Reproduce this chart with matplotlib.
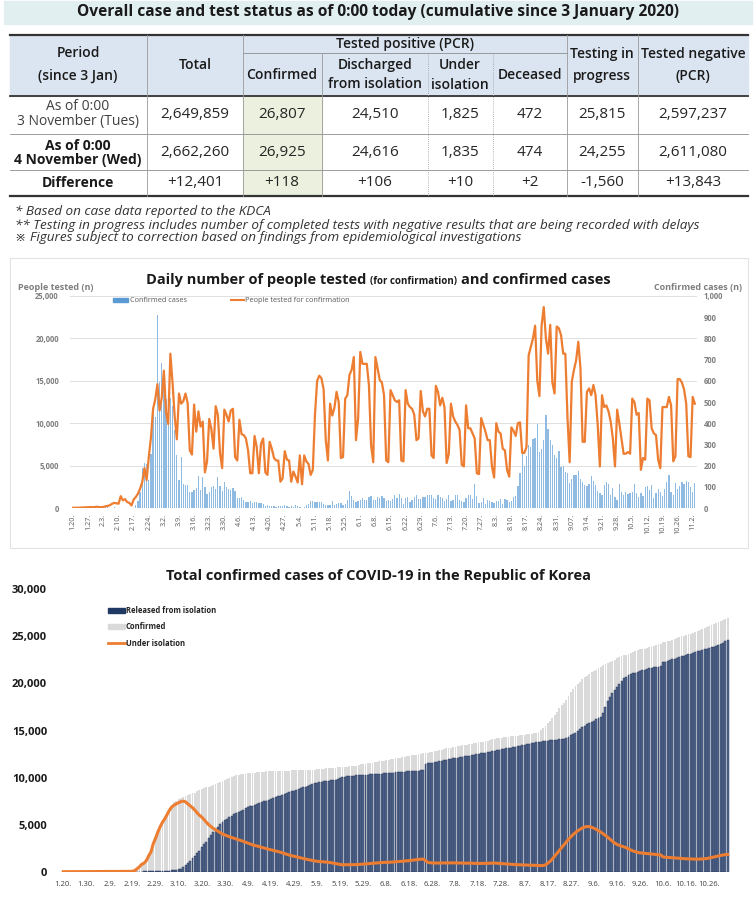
import numpy as np
import pandas as pd
import matplotlib
matplotlib.use('Agg')
import matplotlib.pyplot as plt
from matplotlib.patches import Rectangle

plt.rcParams['font.family'] = ['Open Sans', 'DejaVu Sans']

W, H = 756, 906

# ---------------- table data ----------------
table_title = 'Overall case and test status as of 0:00 today (cumulative since 3 January 2020)'
row_labels = [('As of 0:00', '3 November (Tues)'), ('As of 0:00', '4 November (Wed)'), ('Difference',)]
col_total = ['2,649,859', '2,662,260', '+12,401']
col_confirmed = ['26,807', '26,925', '+118']
col_discharged = ['24,510', '24,616', '+106']
col_isolation = ['1,825', '1,835', '+10']
col_deceased = ['472', '474', '+2']
col_testing = ['25,815', '24,255', '-1,560']
col_negative = ['2,597,237', '2,611,080', '+13,843']
footnotes = ['* Based on case data reported to the KDCA',
             '** Testing in progress includes number of completed tests with negative results that are being recorded with delays',
             '\u203b Figures subject to correction based on findings from epidemiological investigations']

# ---------------- daily data from 2020-01-20 ----------------
tested = [
    30, 20, 30, 40, 60, 70, 80,
    100, 110, 90, 120, 150, 110, 100,
    130, 200, 250, 330, 500, 600, 560,
    500, 1400, 900, 1050, 700, 600, 300,
    1000, 1300, 1700, 2300, 3100, 4700, 3300,
    6000, 8300, 11700, 12800, 14600, 11500, 13000,
    16200, 11300, 9900, 18200, 14800, 10800, 8100,
    13500, 12300, 12600, 13500, 12400, 6800, 6300,
    12200, 9000, 11400, 9600, 10200, 4200, 5500,
    10500, 9300, 7000, 12000, 11000, 6500, 4700,
    11600, 11000, 10200, 11500, 11700, 6000, 5600,
    10400, 8700, 8600, 8200, 6800, 4100, 4100,
    8500, 7200, 4100, 7600, 8200, 4200, 3900,
    7800, 7000, 5900, 5600, 5600, 3100, 3500,
    6700, 5700, 5600, 3100, 4300, 3700, 3000,
    6200, 2800, 6200, 5500, 5200, 3900, 4500,
    11000, 15000, 15600, 15300, 14000, 8000, 5600,
    12300, 10900, 11800, 13700, 12500, 5900, 6000,
    12900, 13300, 15700, 16300, 17800, 8000, 10600,
    18400, 17000, 17000, 17000, 14500, 7400, 5400,
    17800, 16500, 15100, 14800, 13300, 5600, 5400,
    13900, 13300, 12700, 12500, 12700, 5600, 5500,
    13900, 12300, 11900, 11700, 11000, 8000, 8200,
    13800, 11400, 10800, 11700, 11700, 6200, 5900,
    14400, 13700, 12100, 13000, 11900, 5300, 6400,
    12300, 10800, 10200, 9800, 9200, 5100, 4900,
    12100, 9400, 9400, 8800, 8200, 4100, 4000,
    10600, 9800, 9000, 8000, 8000, 4900, 3600,
    10000, 9000, 8800, 7000, 6800, 4500, 3700,
    9500, 9100, 8500, 10000, 10100, 6500, 6500,
    7200, 18000, 19000, 20000, 21500, 15000, 13200,
    21500, 23700, 20000, 18200, 21600, 14800, 13500,
    21400, 21200, 20400, 18200, 18200, 10600, 5400,
    14900, 16300, 17400, 19600, 16500, 7800, 7800,
    13700, 14100, 13300, 14500, 13300, 9800, 4900,
    13300, 11900, 12100, 11400, 10200, 8200, 4900,
    11600, 10000, 8200, 6400, 6400, 6600, 6400,
    12900, 12500, 11000, 11200, 4500, 5900, 5700,
    12900, 12700, 9400, 8800, 8600, 5700, 4700,
    11900, 11900, 11900, 13100, 12100, 5500, 6100,
    15200, 15200, 14800, 14000, 12300, 6100, 6000,
    13100, 12300,
]

confirmed_daily = [
    1, 0, 0, 1, 0, 1, 1, 0, 0, 2,
    4, 1, 3, 0, 1, 3, 5, 1, 0, 3,
    0, 0, 0, 0, 0, 0, 1, 1, 1, 15,
    34, 74, 190, 210, 207, 130, 253, 449, 427, 909,
    595, 686, 600, 516, 438, 518, 483, 367, 248, 131,
    242, 114, 110, 107, 76, 74, 84, 93, 152, 87,
    147, 98, 64, 76, 100, 104, 91, 146, 105, 78,
    125, 101, 89, 86, 94, 81, 47, 47, 53, 39,
    27, 30, 32, 25, 27, 27, 22, 22, 18, 8,
    13, 9, 11, 8, 6, 10, 10, 10, 14, 9,
    4, 9, 6, 13, 8, 3, 2, 4, 12, 18,
    34, 35, 27, 26, 29, 27, 19, 13, 15, 13,
    32, 12, 20, 23, 25, 16, 19, 40, 79, 58,
    39, 27, 35, 38, 49, 39, 39, 51, 57, 38,
    38, 50, 45, 56, 48, 34, 37, 34, 43, 59,
    49, 67, 48, 17, 46, 51, 28, 39, 51, 62,
    42, 43, 50, 54, 63, 63, 61, 46, 44, 63,
    50, 45, 35, 44, 62, 33, 39, 61, 60, 39,
    34, 26, 45, 63, 59, 41, 113, 58, 25, 28,
    48, 18, 36, 31, 30, 23, 34, 33, 43, 20,
    43, 36, 28, 34, 54, 56, 103, 166, 279, 197,
    246, 297, 288, 324, 332, 397, 266, 280, 320, 441,
    371, 323, 299, 248, 235, 267, 195, 198, 168, 167,
    119, 136, 156, 155, 176, 136, 121, 109, 106, 113,
    153, 126, 110, 82, 70, 61, 110, 125, 114, 61,
    95, 50, 38, 113, 77, 63, 75, 64, 73, 75,
    114, 69, 54, 72, 58, 97, 102, 84, 110, 47,
    73, 91, 76, 58, 89, 121, 155, 77, 61, 119,
    88, 103, 125, 114, 127, 124, 97, 75, 118,
]

released = [
    0, 0, 0, 0, 0, 0, 0, 0, 0, 0,
    0, 0, 0, 0, 0, 0, 1, 1, 2, 3,
    3, 4, 4, 7, 7, 9, 9, 10, 10, 12,
    12, 16, 16, 17, 18, 22, 22, 22, 24, 26,
    27, 30, 31, 41, 88, 108, 118, 130, 166, 200,
    288, 333, 500, 714, 900, 1137, 1407, 1650, 1950, 2233,
    2612, 2909, 3200, 3550, 3850, 4170, 4500, 4800, 5050, 5250,
    5450, 5620, 5780, 5930, 6080, 6200, 6330, 6460, 6590, 6720,
    6850, 6940, 7020, 7100, 7190, 7280, 7370, 7460, 7550, 7640,
    7730, 7820, 7910, 8000, 8080, 8160, 8250, 8340, 8430, 8520,
    8610, 8700, 8790, 8880, 8970, 9050, 9130, 9220, 9300, 9370,
    9440, 9500, 9560, 9600, 9640, 9680, 9710, 9740, 9760, 9850,
    9950, 10030, 10100, 10130, 10160, 10180, 10200, 10220, 10240, 10250,
    10270, 10290, 10310, 10330, 10350, 10370, 10390, 10410, 10430, 10450,
    10470, 10490, 10510, 10530, 10550, 10570, 10590, 10610, 10630, 10650,
    10670, 10690, 10710, 10730, 10750, 10770, 10800, 11450, 11500, 11550,
    11600, 11650, 11700, 11750, 11800, 11850, 11900, 11950, 12000, 12050,
    12080, 12120, 12160, 12200, 12250, 12300, 12340, 12380, 12420, 12460,
    12510, 12560, 12610, 12660, 12710, 12760, 12810, 12860, 12900, 12940,
    12990, 13040, 13090, 13140, 13190, 13240, 13290, 13340, 13390, 13440,
    13490, 13540, 13590, 13640, 13690, 13740, 13780, 13820, 13850, 13880,
    13910, 13940, 13970, 14000, 14030, 14060, 14090, 14120, 14200, 14300,
    14500, 14620, 14750, 14950, 15200, 15350, 15500, 15650, 15780, 15900,
    16030, 16170, 16300, 16470, 16900, 17500, 18100, 18600, 18950, 19300,
    19650, 19950, 20250, 20530, 20700, 20850, 20970, 21080, 21160, 21240,
    21320, 21400, 21480, 21560, 21620, 21680, 21720, 21760, 21790, 21820,
    22250, 22320, 22400, 22480, 22560, 22640, 22720, 22800, 22870, 22940,
    23010, 23080, 23150, 23250, 23320, 23400, 23480, 23560, 23640, 23700,
    23780, 23850, 23920, 23990, 24060, 24180, 24320, 24470, 24616,
]

isolated = [
    1, 1, 1, 1, 2, 2, 3, 4, 4, 4,
    6, 10, 11, 14, 14, 15, 18, 22, 22, 24,
    24, 24, 24, 21, 21, 19, 19, 18, 19, 33,
    50, 124, 314, 524, 786, 908, 1185, 1680, 2100, 2980,
    3560, 4230, 4780, 5260, 5620, 6090, 6540, 6870, 7060, 7210,
    7330, 7450, 7500, 7420, 7200, 7000, 6800, 6550, 6250, 6000,
    5800, 5550, 5250, 5000, 4800, 4600, 4450, 4300, 4150, 4000,
    3900, 3800, 3720, 3640, 3560, 3480, 3400, 3310, 3220, 3130,
    3040, 2950, 2860, 2790, 2720, 2650, 2580, 2510, 2450, 2390,
    2330, 2270, 2210, 2150, 2080, 2000, 1920, 1840, 1760, 1700,
    1640, 1580, 1520, 1460, 1400, 1340, 1290, 1240, 1190, 1140,
    1100, 1080, 1060, 1040, 1020, 1000, 960, 910, 860, 810,
    770, 740, 740, 740, 740, 740, 740, 750, 770, 800,
    820, 840, 850, 870, 890, 910, 930, 950, 970, 990,
    990, 1000, 1010, 1030, 1050, 1070, 1090, 1110, 1130, 1150,
    1180, 1210, 1240, 1270, 1300, 1330, 1340, 1180, 1000, 950,
    930, 920, 920, 920, 920, 930, 930, 940, 940, 940,
    930, 930, 920, 920, 910, 910, 900, 900, 890, 890,
    880, 880, 880, 880, 890, 900, 920, 920, 900, 880,
    860, 840, 820, 800, 780, 760, 750, 740, 730, 720,
    710, 700, 690, 680, 670, 660, 650, 650, 660, 720,
    900, 1100, 1350, 1650, 1950, 2250, 2550, 2850, 3150, 3450,
    3700, 3950, 4150, 4350, 4500, 4650, 4750, 4800, 4780, 4720,
    4620, 4500, 4350, 4200, 4030, 3850, 3650, 3450, 3250, 3050,
    2900, 2800, 2720, 2650, 2550, 2420, 2300, 2200, 2120, 2050,
    2000, 1970, 1950, 1930, 1900, 1880, 1850, 1820, 1800, 1780,
    1560, 1540, 1520, 1500, 1480, 1460, 1440, 1420, 1400, 1380,
    1370, 1360, 1350, 1340, 1330, 1330, 1340, 1360, 1380, 1400,
    1450, 1500, 1560, 1620, 1680, 1730, 1780, 1820, 1835,
]

dates = pd.date_range('2020-01-20', periods=len(tested), freq='D')
days = np.arange(len(dates))
cum_confirmed = np.cumsum(confirmed_daily)

ticks1 = days[::7]
labels1 = [f'{d.month}.{d.day}.' for d in dates[::7]]
labels1 = ['9.07.' if s == '9.7.' else s for s in labels1]
ticks2 = days[::10]
labels2 = [f'{d.month}.{d.day}.' for d in dates[::10]]

ORANGE = '#ed7d31'

fig = plt.figure(figsize=(W / 100, H / 100), dpi=100)
bg = fig.add_axes([0, 0, 1, 1])
bg.set_xlim(0, W)
bg.set_ylim(H, 0)
bg.axis('off')


def rect(x0, y0, x1, y1):
    return [x0 / W, 1 - y1 / H, (x1 - x0) / W, (y1 - y0) / H]


# ---------------- title banner + table ----------------
bg.add_patch(Rectangle((4, 1), 748, 23, color='#e1eff1', zorder=0))
bg.text(378, 12.5, table_title, ha='center', va='center', fontsize=11.2, fontweight='bold', color='#1a1a1a')

bg.add_patch(Rectangle((10, 35), 738, 61, color='#dbe5f1', zorder=0))
bg.add_patch(Rectangle((243, 96), 79, 100, color='#ebf1de', zorder=0))

for y, lw, c in [(35, 1.6, '#333333'), (96, 1.3, '#333333'), (134, 0.6, '#8c8c8c'),
                 (170, 0.6, '#8c8c8c'), (196, 1.6, '#333333')]:
    bg.plot([10, 748], [y, y], color=c, lw=lw)
bg.plot([243, 567], [53, 53], color='#8c8c8c', lw=0.6)
for x in [147, 243, 567, 638]:
    bg.plot([x, x], [35, 196], color='#9a9a9a', lw=0.6)
bg.plot([322, 322], [53, 196], color='#9a9a9a', lw=0.6)
for x in [428, 493]:
    bg.plot([x, x], [53, 196], color='#9a9a9a', lw=0.6, ls=(0, (1, 1.5)))

hkw = dict(ha='center', va='center', fontsize=10, color='#1a1a1a', fontweight='semibold')
bg.text(78, 53, 'Period', **hkw)
bg.text(78, 76, '(since 3 Jan)', **hkw)
bg.text(195, 65, 'Total', **hkw)
bg.text(405, 44, 'Tested positive (PCR)', **hkw)
bg.text(282, 75, 'Confirmed', **hkw)
bg.text(375, 65, 'Discharged', **hkw)
bg.text(375, 84, 'from isolation', **hkw)
bg.text(460, 65, 'Under', **hkw)
bg.text(460, 85, 'isolation', **hkw)
bg.text(530, 75, 'Deceased', **hkw)
bg.text(602, 54, 'Testing in', **hkw)
bg.text(602, 76, 'progress', **hkw)
bg.text(693, 54, 'Tested negative', **hkw)
bg.text(693, 76, '(PCR)', **hkw)

bg.text(78, 107, row_labels[0][0], ha='center', va='center', fontsize=10, color='#404040')
bg.text(78, 121, row_labels[0][1], ha='center', va='center', fontsize=10, color='#404040')
bg.text(78, 146, row_labels[1][0], ha='center', va='center', fontsize=10, fontweight='bold', color='#1a1a1a')
bg.text(78, 160, row_labels[1][1], ha='center', va='center', fontsize=10, fontweight='bold', color='#1a1a1a')
bg.text(78, 183, row_labels[2][0], ha='center', va='center', fontsize=10, fontweight='bold', color='#1a1a1a')

columns = [(195, col_total), (282, col_confirmed), (375, col_discharged), (460, col_isolation),
           (530, col_deceased), (602, col_testing), (693, col_negative)]
for x, vals in columns:
    for y, v in zip([115, 153, 183], vals):
        bg.text(x, y, v, ha='center', va='center', fontsize=11, color='#262626')

for y, s in zip([212, 225, 237], footnotes):
    bg.text(15, y, s, ha='left', va='center', fontsize=9.7, style='italic', color='#333333')

# ---------------- chart 1 ----------------
bg.add_patch(Rectangle((10, 258), 738, 290, fill=False, edgecolor='#e3e3e3', lw=0.8))

renderer = fig.canvas.get_renderer()
parts = [('Daily number of people tested', 10.5, 0), ('(for confirmation)', 7, 4), ('and confirmed cases', 10.5, 4)]
objs = []
for s, fs, gap in parts:
    objs.append((bg.text(0, 284, s, ha='left', va='baseline', fontsize=fs, fontweight='bold', color='#1a1a1a'), gap))
widths = [o.get_window_extent(renderer).width for o, g in objs]
total = sum(widths) + sum(g for o, g in objs)
x = 378 - total / 2
for (o, g), w in zip(objs, widths):
    x += g
    o.set_x(x)
    x += w

bg.text(18, 287, 'People tested (n)', ha='left', va='center', fontsize=6.5, fontweight='bold', color='#7f7f7f')
bg.text(742, 287, 'Confirmed cases (n)', ha='right', va='center', fontsize=6.5, fontweight='bold', color='#7f7f7f')

bg.add_patch(Rectangle((113, 298), 15, 4, color='#5b9bd5'))
bg.text(130, 300, 'Confirmed cases', ha='left', va='center', fontsize=5.3, color='#595959')
bg.plot([231, 244], [300, 300], color=ORANGE, lw=1.5)
bg.text(245, 300, 'People tested for confirmation', ha='left', va='center', fontsize=5.3, color='#595959')

ax_b = fig.add_axes(rect(70, 296, 697, 508))
ax_l = ax_b.twinx()
ax_b.bar(days, confirmed_daily, width=0.6, color='#8fbbe3', edgecolor='none')
ax_l.plot(days, tested, color=ORANGE, lw=1.6)
for v in range(0, 1001, 200):
    ax_b.axhline(v, color='#e0e0e0', lw=0.7, zorder=0)
ax_b.set_ylim(0, 1000)
ax_l.set_ylim(0, 25000)
ax_b.set_xlim(-1.5, 289)
ax_b.yaxis.tick_right()
ax_l.yaxis.tick_left()
ax_b.set_yticks(range(0, 1001, 100))
ax_b.set_yticklabels([f'{v:,}' for v in range(0, 1001, 100)])
ax_l.set_yticks(range(0, 25001, 5000))
ax_l.set_yticklabels([f'{v:,}' for v in range(0, 25001, 5000)])
ax_b.set_xticks(ticks1)
ax_b.set_xticklabels(labels1, rotation=90)
ax_b.tick_params(axis='y', length=0, pad=5, labelsize=5.5, labelcolor='#7f7f7f')
ax_l.tick_params(axis='y', length=0, pad=8, labelsize=5.5, labelcolor='#7f7f7f')
ax_b.tick_params(axis='x', length=0, pad=4, labelsize=5.2, labelcolor='#595959')
for a in (ax_b, ax_l):
    a.patch.set_visible(False)
    for sp in a.spines.values():
        sp.set_visible(False)
for t in ax_b.get_yticklabels() + ax_l.get_yticklabels():
    t.set_fontweight('bold')

# ---------------- chart 2 ----------------
bg.text(378, 576, 'Total confirmed cases of COVID-19 in the Republic of Korea', ha='center', va='center',
        fontsize=10.5, fontweight='bold', color='#1a1a1a')

ax2 = fig.add_axes(rect(61, 589.3, 730, 871.7))
ax2.bar(days, cum_confirmed, width=0.8, color='#dadada', edgecolor='none')
ax2.bar(days, released, width=0.85, color='#55698f', edgecolor='#1f2d52', lw=0.3)
ax2.plot(days, isolated, color=ORANGE, lw=2.2)
ax2.set_ylim(0, 30000)
ax2.set_xlim(-1, 289)
ax2.set_yticks(range(0, 30001, 5000))
ax2.set_yticklabels([f'{v:,}' for v in range(0, 30001, 5000)])
ax2.set_xticks(ticks2)
ax2.set_xticklabels(labels2)
ax2.tick_params(axis='y', length=0, pad=10, labelsize=8, labelcolor='#1a1a1a')
ax2.tick_params(axis='x', length=0, pad=7, labelsize=5.5, labelcolor='#404040')
for t in ax2.get_yticklabels():
    t.set_fontweight('bold')
for sp in ax2.spines.values():
    sp.set_visible(False)
ax2.patch.set_visible(False)

bg.add_patch(Rectangle((108, 608), 17, 5, color='#1f3864'))
bg.text(126, 610.5, 'Released from isolation', ha='left', va='center', fontsize=5.5, fontweight='bold', color='#222222')
bg.add_patch(Rectangle((108, 624), 17, 5, color='#dadada'))
bg.text(126, 626.5, 'Confirmed', ha='left', va='center', fontsize=5.5, fontweight='bold', color='#222222')
bg.plot([108, 125], [643, 643], color=ORANGE, lw=2)
bg.text(126, 643, 'Under isolation', ha='left', va='center', fontsize=5.5, fontweight='bold', color='#222222')

fig.savefig('out.png', dpi=100)
